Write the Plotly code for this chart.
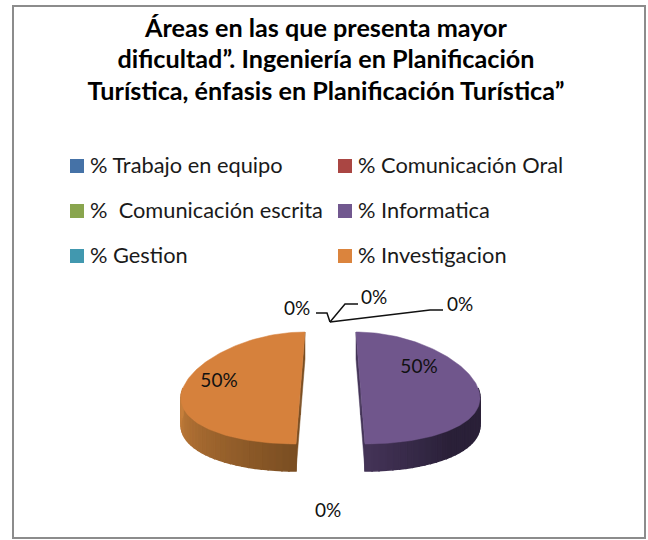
import numpy as np
import plotly.graph_objects as go

# ---- data ----
categories = ["% Trabajo en equipo", "% Comunicación Oral", "%  Comunicación escrita",
              "% Informatica", "% Gestion", "% Investigacion"]
values = [0, 0, 0, 50, 0, 50]
colors = ["#4572A7", "#AA4643", "#89A54E", "#71588F", "#4198AF", "#DB843D"]
title_lines = ["Áreas en las que presenta mayor",
               "dificultad”. Ingeniería en Planificación",
               "Turística, énfasis en Planificación Turística”"]
face_colors = {"% Informatica": "#70568C", "% Investigacion": "#D6813C"}
wall_near = {"% Informatica": (68, 52, 88), "% Investigacion": (122, 78, 34)}   # next to the cut
wall_far = {"% Informatica": (42, 32, 56), "% Investigacion": (200, 128, 60)}   # outer end

# ---- layout constants (pixel canvas) ----
W, H = 648, 540
FONT = "Lato, Carlito, Calibri, sans-serif"
CX, CY, A, B, EXPLODE, PERSP, DEPTH = 330.5, 388, 117.5, 56, 30, 0.15, 27

fig = go.Figure()


def project(t_deg, r, mid_deg, z=0.0):
    t = np.radians(t_deg)
    m = np.radians(mid_deg)
    dx = A * r * np.sin(t)
    dy = -B * r * np.cos(t)
    scale = 1 + PERSP * dy / B
    return CX + (dx + EXPLODE * np.sin(m)) * scale, CY + dy + z


def poly(x, y, color, lw=0.5):
    fig.add_trace(go.Scatter(x=list(x), y=list(y), mode="lines", fill="toself",
                             fillcolor=color, line=dict(color=color, width=lw),
                             hoverinfo="skip", showlegend=False))


total = sum(values)
cum = 0.0
for name, v in zip(categories, values):
    if v == 0:
        continue
    start = cum / total * 360
    end = (cum + v) / total * 360
    cum += v
    mid = (start + end) / 2
    near = np.array(wall_near[name], float)
    far = np.array(wall_far[name], float)
    # cut faces
    for edge in (start, end):
        x0, y0 = project(edge, 1, mid)
        x1, y1 = project(edge, 0, mid)
        x2, y2 = project(edge, 0, mid, DEPTH)
        x3, y3 = project(edge, 1, mid, DEPTH)
        poly([x0, x1, x2, x3, x0], [y0, y1, y2, y3, y0], "rgb(%d,%d,%d)" % tuple(near))
    # outer wall, visible for the front half of the ellipse
    lo, hi = max(start, 90), min(end, 270)
    edges = np.linspace(lo, hi, 31)
    for t0, t1 in zip(edges[:-1], edges[1:]):
        tm = (t0 + t1) / 2
        f = abs(tm - 180) / 90
        if name == "% Informatica":
            f = min(1, f * 2.2)
        c = near + (far - near) * f
        ts = np.linspace(t0, t1, 4)
        xt, yt = project(ts, 1, mid)
        xb, yb = project(ts[::-1], 1, mid, DEPTH)
        poly(np.r_[xt, xb, xt[0]], np.r_[yt, yb, yt[0]], "rgb(%d,%d,%d)" % tuple(c), lw=1.5)
    # top face
    ts = np.linspace(start, end, 121)
    xs, ys = project(ts, 1, mid)
    xc, yc = project(start, 0, mid)
    poly(np.r_[xc, xs, xc], np.r_[yc, ys, yc], face_colors[name])

# leader lines of the zero slices
leaders = [([316, 327, 330], [313, 313, 322]),
           ([358, 345, 330], [304, 304, 322]),
           ([443, 430, 330], [310, 310, 322])]
for lx, ly in leaders:
    fig.add_trace(go.Scatter(x=lx, y=ly, mode="lines", line=dict(color="#111111", width=1.5),
                             hoverinfo="skip", showlegend=False))

# data labels
pct_labels = ["0%", "0%", "0%", "50%", "0%", "50%"]
label_x = [297, 374, 460, 419, 328, 219]
label_y = [310, 299, 306, 368, 512, 382]
fig.add_trace(go.Scatter(x=label_x, y=label_y, text=pct_labels, mode="text",
                         textfont=dict(family=FONT, size=19, color="#111111"),
                         textposition="middle center", hoverinfo="skip", showlegend=False))

# legend grid
leg_x = [70, 338, 70, 338, 70, 338]
leg_y = [166, 166, 211, 211, 256, 256]
for name, c, lx, ly in zip(categories, colors, leg_x, leg_y):
    fig.add_trace(go.Scatter(x=[lx + 7], y=[ly], mode="markers",
                             marker=dict(symbol="square", size=14, color=c),
                             hoverinfo="skip", showlegend=False))
    fig.add_trace(go.Scatter(x=[lx + 20], y=[ly + 2], text=[name], mode="text", textposition="middle right",
                             textfont=dict(family=FONT, size=21.8, color="#1a1a1a"),
                             hoverinfo="skip", showlegend=False))

# title
title_y = [31, 62, 94]
fig.add_trace(go.Scatter(x=[326] * 3, y=title_y, text=[f"<b>{s}</b>" for s in title_lines], mode="text",
                         textposition="middle center",
                         textfont=dict(family=FONT, size=25.2, color="#000000"),
                         hoverinfo="skip", showlegend=False))

fig.update_layout(
    width=W, height=H, margin=dict(l=0, r=0, t=0, b=0),
    paper_bgcolor="white", plot_bgcolor="white", showlegend=False,
    xaxis=dict(range=[0, W], visible=False, fixedrange=True),
    yaxis=dict(range=[H, 0], visible=False, fixedrange=True),
    shapes=[dict(type="rect", x0=13, y0=6, x1=645, y1=538,
                 line=dict(color="#8C8C8C", width=2), layer="below")],
)
fig.write_html("out.html", config={"displayModeBar": False},
               post_script="document.body.style.margin='0';document.body.style.overflow='hidden';")
